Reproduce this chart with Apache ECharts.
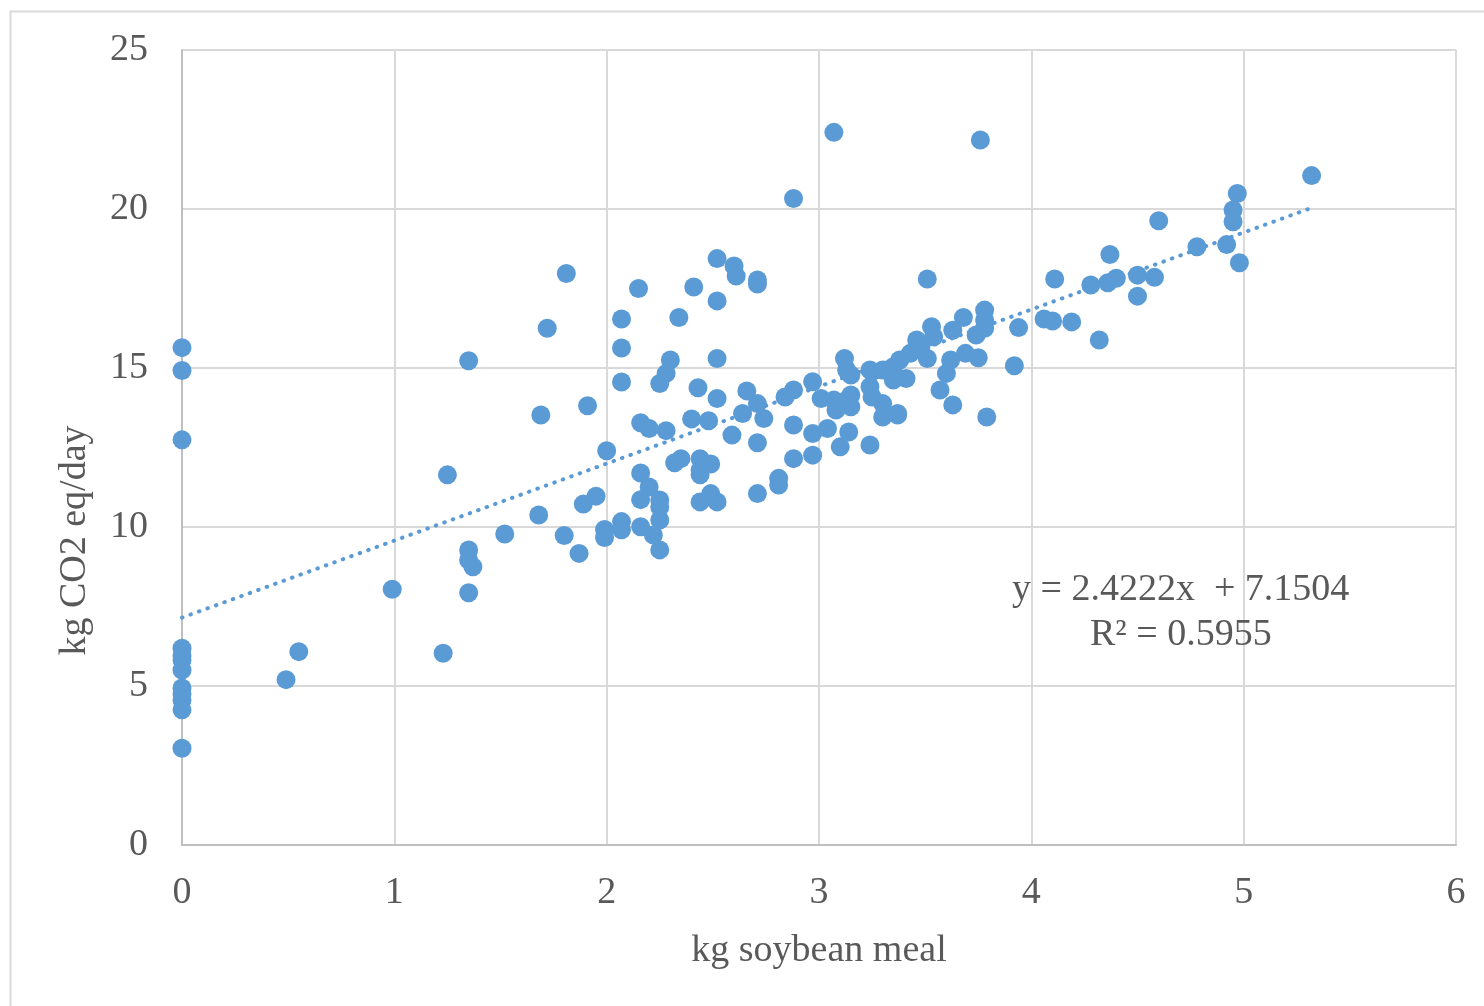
<!DOCTYPE html>
<html>
<head>
<meta charset="utf-8">
<script src="https://cdn.jsdelivr.net/npm/echarts@6/dist/echarts.min.js"></script>
<style>
html,body{margin:0;padding:0;background:#fff;}
#chart{width:1484px;height:1006px;}
</style>
</head>
<body>
<div id="chart"></div>
<script>
// kg soybean meal (x) and kg CO2 eq/day (y)
var soymeal = [
  0,0,0,0,0,0,0,0,0,0,0,0,
  0.49,0.55,0.99,1.23,1.25,1.35,1.35,1.35,1.37,1.35,1.52,1.68,1.69,1.72,1.81,1.80,1.87,1.89,1.91,1.95,
  1.99,1.99,2.00,2.07,2.07,2.07,2.07,2.07,2.15,2.16,2.16,2.16,2.16,2.20,2.20,2.22,2.25,2.25,2.25,2.25,2.25,
  2.28,2.28,2.30,2.32,2.34,2.35,2.40,2.41,2.43,2.44,2.44,2.44,2.44,2.48,2.49,2.49,2.52,2.52,2.52,2.52,2.52,
  2.60,2.61,2.59,2.64,2.66,2.71,2.71,2.71,2.71,2.71,2.74,2.81,2.81,2.84,2.88,2.88,2.88,2.88,2.97,2.97,2.97,
  3.01,3.04,3.07,3.07,3.08,3.10,3.10,3.12,3.13,3.13,3.14,3.15,3.15,3.15,3.24,3.24,3.25,3.25,3.24,3.30,3.30,
  3.30,3.35,3.35,3.35,3.37,3.37,3.38,3.41,3.43,3.46,3.48,3.51,3.51,3.53,3.54,3.57,3.60,3.62,3.63,3.63,3.68,
  3.69,3.74,3.75,3.76,3.78,3.78,3.78,3.79,3.92,3.94,4.06,4.10,4.11,4.19,4.28,4.32,4.36,4.37,4.40,4.50,4.50,
  4.58,4.60,4.78,4.92,4.95,4.95,4.97,4.98,5.32
];
var co2 = [
  15.64,14.92,12.74,6.19,5.95,5.82,5.50,4.94,4.75,4.56,4.25,3.04,
  5.20,6.08,8.04,6.03,11.64,15.23,9.28,8.96,8.75,7.93,9.78,10.38,13.52,16.25,17.97,9.73,9.17,10.72,13.81,10.97,
  9.92,9.67,12.40,10.17,9.91,16.54,15.63,14.56,17.50,13.28,11.70,10.86,10.01,13.10,11.26,9.75,14.51,10.85,10.63,10.22,9.28,
  13.03,14.83,15.25,12.02,16.59,12.15,13.40,17.55,14.38,12.15,11.64,11.79,10.79,13.34,11.98,11.05,18.44,17.11,15.30,14.04,10.79,
  18.21,17.89,12.89,13.57,14.28,17.77,17.64,13.88,12.65,11.05,13.41,11.53,11.32,14.09,20.33,14.31,13.21,12.15,14.57,12.94,12.26,
  14.04,13.10,22.41,13.99,13.68,13.88,12.52,15.30,14.94,13.99,12.99,14.15,14.78,13.78,14.94,14.41,14.88,14.09,12.58,14.94,13.88,
  13.46,14.83,14.62,15.04,13.57,13.52,15.25,14.67,15.46,15.88,15.67,17.80,15.30,16.30,15.98,14.31,14.83,15.25,16.19,13.84,16.59,
  15.46,16.04,15.32,22.17,16.82,16.51,16.25,13.46,15.07,16.27,16.54,16.48,17.80,16.45,17.61,15.88,17.68,18.57,17.82,17.92,17.26,
  17.85,19.63,18.81,18.88,19.97,19.60,20.49,18.31,21.05
];
// linear trendline as printed on the chart
var trendSlope = 2.4222;
var trendIntercept = 7.1504;
var trendR2 = 0.5955;
var xTicks = [0,1,2,3,4,5,6];
var yTicks = [0,5,10,15,20,25];

var points = soymeal.map(function(x,i){ return [x, co2[i]]; });
var xMax = Math.max.apply(null, soymeal);
var trend = [[0, trendIntercept], [xMax, trendSlope*xMax + trendIntercept]];

var serif = '"Liberation Serif","Times New Roman",serif';
var txt = '#595959';
var chart = echarts.init(document.getElementById('chart'), null, {renderer:'canvas'});
chart.setOption({
  animation:false,
  backgroundColor:'#fff',
  grid:{left:182, top:50, right:28, bottom:161, containLabel:false},
  xAxis:{
    type:'value', min:xTicks[0], max:xTicks[xTicks.length-1], interval:1,
    name:'kg soybean meal', nameLocation:'middle', nameGap:87,
    nameTextStyle:{fontFamily:serif, fontSize:38, color:txt},
    axisLine:{show:true, lineStyle:{color:'#bfbfbf', width:2}},
    axisTick:{show:false},
    axisLabel:{fontFamily:serif, fontSize:38, color:txt, margin:29},
    splitLine:{show:true, lineStyle:{color:'#d9d9d9', width:2}}
  },
  yAxis:{
    type:'value', min:yTicks[0], max:yTicks[yTicks.length-1], interval:5,
    name:'kg CO2 eq/day', nameLocation:'middle', nameGap:88,
    nameTextStyle:{fontFamily:serif, fontSize:38, color:txt, padding:[0,186,0,0]},
    axisLine:{show:true, lineStyle:{color:'#bfbfbf', width:2}},
    axisTick:{show:false},
    axisLabel:{fontFamily:serif, fontSize:38, color:txt, margin:34},
    splitLine:{show:true, lineStyle:{color:'#d9d9d9', width:2}}
  },
  series:[
    {
      type:'line', data:trend, symbol:'none', silent:true, z:1,
      lineStyle:{color:'#5b9bd5', width:4, type:[0.5,8.5], cap:'round'}
    },
    {
      type:'scatter', data:points, symbol:'circle', symbolSize:19, z:2,
      itemStyle:{color:'#5b9bd5', opacity:1}
    }
  ],
  graphic:[
    {type:'rect', silent:true, z:-10, shape:{x:10.5, y:11.5, width:1500, height:1100},
     style:{fill:null, stroke:'#d9d9d9', lineWidth:2}},
    {type:'text', left:1012, top:571, z:10,
     style:{text:'y = 2.4222x  + 7.1504', font:'38px ' + serif, fill:txt}},
    {type:'text', left:1090, top:616, z:10,
     style:{text:'R\u00B2 = 0.5955', font:'38px ' + serif, fill:txt}}
  ]
});
</script>
</body>
</html>
